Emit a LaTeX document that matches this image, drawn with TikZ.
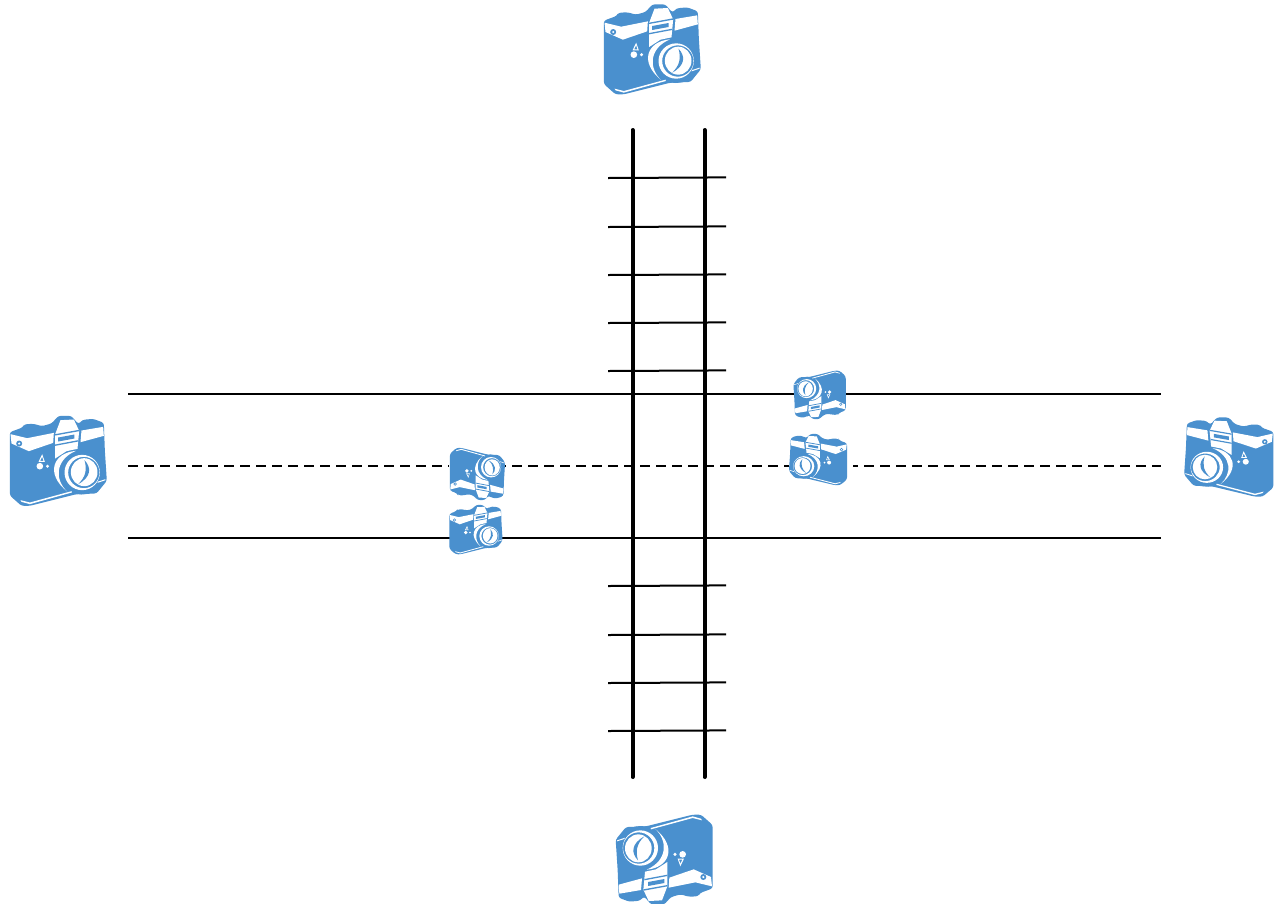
\documentclass[tikz,border=0pt]{standalone}
\definecolor{cam}{HTML}{4A90CE}
\tikzset{
  rail/.style={line width=4pt,black,line cap=round},
  tie/.style={line width=2pt,black},
  lane/.style={line width=2.2pt,black},
  lanedash/.style={line width=2.2pt,black,dash pattern=on 10pt off 6pt},
  pics/camera/.style={code={
    \begin{scope}[x=0.3333pt,y=-0.3333pt,shift={(-183,-157)}]
      % body
      \fill[cam,rounded corners=2.5pt] (40,66) -- (78,52) -- (84,42) -- (112,41) -- (136,48) -- (165,40) -- (186,17) -- (224,17) -- (246,42) -- (258,29) -- (290,26) -- (322,38) -- (325,120) -- (331,212) -- (300,250) -- (240,252) -- (100,287) -- (75,287) -- (40,256) -- cycle;
      \fill[cam] (256,187) circle[radius=66];
      % strips
      \fill[white] (42,72) -- (92,84) -- (172,68) -- (170,98) -- (97,123) -- (45,100) -- cycle;
      \fill[cam] (68,100) circle[radius=9];
      \fill[white] (68,100) circle[radius=3.5];
      \fill[white] (255,61) -- (320,50) -- (322,77) -- (252,96) -- cycle;
      % prism
      \fill[white] (192,30) -- (232,28) -- (248,62) -- (243,116) -- (210,123) -- (176,145) -- (176,72) -- cycle;
      \fill[cam] (176,72) -- (247,59) -- (248,63) -- (176,76) -- cycle;
      \fill[cam] (185,82) -- (234,73) -- (234,85) -- (185,94) -- cycle;
      \fill[cam] (176,103) -- (245,90) -- (245,94) -- (176,107) -- cycle;
      % self timer mark
      \fill[white] (130,168) circle[radius=10];
      \fill[white] (153,168) circle[radius=5];
      \fill[white,even odd rule] (126,155) -- (137,132) -- (145,155) -- cycle (131,152) -- (137,140) -- (141,152) -- cycle;
      % lens
      \fill[white] (238,122) .. controls (170,128) and (145,190) .. (212,244) .. controls (175,210) and (174,150) .. cycle;
      \fill[white,even odd rule] (257,187) circle[radius=53] (262,187) circle[radius=47];
      \fill[white] (263,186) ellipse[x radius=40,y radius=42];
      \fill[cam] (264,150) .. controls (285,172) and (285,200) .. (245,222) .. controls (268,200) and (272,178) .. cycle;
      % bottom line
      \fill[white] (72,270) -- (100,277) -- (225,243) -- (226,247) -- (100,282) -- (75,275) -- cycle;
      \fill[white] (305,214) -- (327,207) -- (327,210) -- (303,218) -- cycle;
    \end{scope}
  }}
}
\begin{document}
\begin{tikzpicture}[x=1pt,y=-1pt]
  \useasboundingbox (0,0) rectangle (1281,903);
  \fill[white] (0,0) rectangle (1281,903);
  % lanes
  \coordinate (l1a) at (128,394); \coordinate (l1b) at (1161,394);
  \coordinate (l2a) at (128,466); \coordinate (l2b) at (1161,466);
  \coordinate (l3a) at (128,538); \coordinate (l3b) at (1161,538);
  \draw[lane] (l1a) -- (l1b);
  \draw[lanedash] (l2a) -- (l2b);
  \draw[lane] (l3a) -- (l3b);
  % ties
  \foreach \y in {178,227,275,323,371,586,635,683,731}{
    \coordinate (ta) at (608,\y); \coordinate (tb) at (726,\y-0.6);
    \draw[tie] (ta) -- (tb);
  }
  % rails
  \coordinate (r1a) at (632.5,130); \coordinate (r1b) at (632.5,777);
  \coordinate (r2a) at (704.5,130); \coordinate (r2b) at (704.5,777);
  \draw[rail] (r1a) -- (r1b);
  \draw[rail] (r2a) -- (r2b);
  % halo of the small camera on the dashed lane
  \fill[white] (789,432) rectangle (853,490);
  \fill[white] (449,446) rectangle (505,500);
  % cameras
  \pic at (651.5,51) {camera};
  \pic at (57.5,462.5) {camera};
  \pic[xscale=-0.92,yscale=0.88] at (1229.5,458.5) {camera};
  \pic[rotate=180] at (665,858) {camera};
  \pic[xscale=0.57,yscale=-0.58] at (477,473) {camera};
  \pic[xscale=0.55,yscale=0.55] at (475.5,530.5) {camera};
  \pic[rotate=180,xscale=0.54,yscale=0.54] at (820,394) {camera};
  \pic[xscale=-0.6,yscale=0.57] at (818.5,460.5) {camera};
\end{tikzpicture}
\end{document}
